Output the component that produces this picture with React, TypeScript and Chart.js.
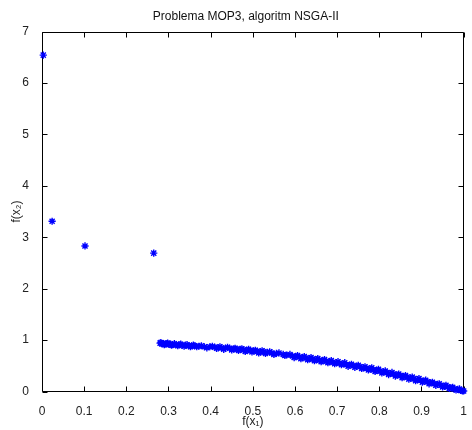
import { useEffect, useRef } from 'react';
import { Chart, registerables } from 'chart.js';

Chart.register(...registerables);

const chartTitle = 'Problema MOP3, algoritm NSGA-II';
const xAxisTitle = 'f(x₁)';
const yAxisTitle = 'f(x₂)';
const xTickLabels = ['0', '0.1', '0.2', '0.3', '0.4', '0.5', '0.6', '0.7', '0.8', '0.9', '1'];
const yTickLabels = ['0', '1', '2', '3', '4', '5', '6', '7'];

const f1Values = [
  0.003, 0.024, 0.102, 0.265,
  0.280, 0.284, 0.288, 0.292, 0.296, 0.300, 0.305, 0.310, 0.318, 0.325,
  0.332, 0.340, 0.348, 0.355, 0.362, 0.372, 0.385, 0.398, 0.410, 0.418,
  0.426, 0.435, 0.445, 0.455, 0.462, 0.470, 0.478, 0.486, 0.494, 0.502,
  0.510, 0.518, 0.526, 0.534, 0.545, 0.556, 0.572, 0.580, 0.594, 0.602,
  0.610, 0.618, 0.626, 0.634, 0.642, 0.650, 0.658, 0.666, 0.674, 0.682,
  0.690, 0.698, 0.706, 0.714, 0.722, 0.730, 0.738, 0.746, 0.754, 0.762,
  0.770, 0.778, 0.786, 0.794, 0.802, 0.810, 0.818, 0.826, 0.834, 0.842,
  0.850, 0.858, 0.866, 0.874, 0.882, 0.890, 0.898, 0.906, 0.914, 0.922,
  0.930, 0.938, 0.946, 0.954, 0.962, 0.970, 0.978, 0.986, 0.993, 1.000,
  0.282, 0.290, 0.298, 0.307, 0.314, 0.322, 0.329, 0.337, 0.344, 0.352,
  0.359, 0.367, 0.378, 0.391, 0.404, 0.414, 0.422, 0.431, 0.440, 0.450,
  0.458, 0.466, 0.474, 0.482, 0.490, 0.498, 0.506, 0.514, 0.522, 0.530,
  0.540, 0.550, 0.562, 0.576, 0.588, 0.598, 0.606, 0.614, 0.622, 0.630,
  0.638, 0.646, 0.654, 0.662, 0.670, 0.678, 0.686, 0.694, 0.702, 0.710,
  0.718, 0.726, 0.734, 0.742, 0.750, 0.758, 0.766, 0.774, 0.782, 0.790,
  0.798, 0.806, 0.814, 0.822, 0.830, 0.838, 0.846, 0.854, 0.862, 0.870,
  0.878, 0.886, 0.894, 0.902, 0.910, 0.918, 0.926, 0.934, 0.942, 0.950,
  0.958, 0.966, 0.974, 0.982, 0.990, 0.997,
];

const f2Values = [
  6.54, 3.31, 2.83, 2.69,
  0.94, 0.93, 0.93, 0.92, 0.93, 0.92, 0.92, 0.91, 0.91, 0.91,
  0.90, 0.90, 0.89, 0.89, 0.89, 0.88, 0.87, 0.87, 0.86, 0.85,
  0.85, 0.84, 0.84, 0.83, 0.82, 0.82, 0.81, 0.80, 0.80, 0.79,
  0.78, 0.77, 0.77, 0.76, 0.75, 0.74, 0.72, 0.71, 0.69, 0.68,
  0.67, 0.66, 0.65, 0.64, 0.63, 0.62, 0.61, 0.60, 0.59, 0.58,
  0.57, 0.56, 0.55, 0.54, 0.52, 0.51, 0.50, 0.49, 0.48, 0.46,
  0.45, 0.44, 0.42, 0.41, 0.40, 0.38, 0.37, 0.35, 0.34, 0.32,
  0.31, 0.29, 0.28, 0.26, 0.25, 0.23, 0.22, 0.20, 0.19, 0.17,
  0.15, 0.14, 0.12, 0.10, 0.09, 0.07, 0.05, 0.04, 0.02, 0.01,
  0.95, 0.91, 0.94, 0.90, 0.93, 0.89, 0.92, 0.88, 0.91, 0.87,
  0.90, 0.87, 0.89, 0.85, 0.88, 0.84, 0.87, 0.82, 0.86, 0.81,
  0.84, 0.80, 0.83, 0.78, 0.82, 0.77, 0.80, 0.75, 0.79, 0.74,
  0.77, 0.72, 0.75, 0.70, 0.72, 0.66, 0.70, 0.64, 0.68, 0.62,
  0.66, 0.60, 0.64, 0.58, 0.62, 0.56, 0.60, 0.54, 0.58, 0.52,
  0.56, 0.49, 0.53, 0.47, 0.51, 0.45, 0.48, 0.42, 0.46, 0.39,
  0.43, 0.36, 0.40, 0.33, 0.37, 0.30, 0.34, 0.27, 0.31, 0.24,
  0.28, 0.21, 0.25, 0.18, 0.22, 0.15, 0.18, 0.12, 0.15, 0.09,
  0.12, 0.06, 0.08, 0.03, 0.05, 0.01,
];

const FONT = '"Liberation Sans", Arial, Helvetica, sans-serif';

export default function App() {
  const ref = useRef<HTMLCanvasElement>(null);

  useEffect(() => {
    const canvas = ref.current;
    if (!canvas) return;

    const framePlugin = {
      id: 'matlabFrame',
      beforeDatasetsDraw(chart: any) {
        const { ctx, chartArea, scales } = chart;
        const L = Math.round(chartArea.left) + 0.5;
        const R = Math.round(chartArea.right) - 0.5;
        const T = Math.round(chartArea.top) + 0.5;
        const B = Math.round(chartArea.bottom) - 0.5;
        const tl = 5;
        ctx.save();
        ctx.strokeStyle = '#000';
        ctx.lineWidth = 1;
        ctx.beginPath();
        ctx.rect(L, T, R - L, B - T);
        scales.x.ticks.forEach((t: any) => {
          const px = Math.round(scales.x.getPixelForValue(t.value)) + 0.5;
          ctx.moveTo(px, B);
          ctx.lineTo(px, B - tl);
          ctx.moveTo(px, T);
          ctx.lineTo(px, T + tl);
        });
        scales.y.ticks.forEach((t: any) => {
          const py = Math.round(scales.y.getPixelForValue(t.value)) + 0.5;
          ctx.moveTo(L, py);
          ctx.lineTo(L + tl, py);
          ctx.moveTo(R, py);
          ctx.lineTo(R - tl, py);
        });
        ctx.stroke();
        ctx.fillStyle = '#111';
        ctx.font = `12px ${FONT}`;
        ctx.textAlign = 'center';
        ctx.textBaseline = 'middle';
        ctx.fillText(chartTitle, (chartArea.left + chartArea.right) / 2 - 7, 17);
        ctx.restore();
      },
    };

    const chart = new Chart(canvas, {
      type: 'scatter',
      data: {
        datasets: [
          {
            data: f1Values.map((x, i) => ({ x, y: f2Values[i] })),
            pointStyle: 'star',
            pointRadius: 3.6,
            pointHoverRadius: 3.6,
            borderColor: '#0000ff',
            backgroundColor: '#0000ff',
            borderWidth: 1.4,
            showLine: false,
            clip: false,
          } as any,
        ],
      },
      options: {
        responsive: false,
        animation: false,
        devicePixelRatio: 1,
        layout: { padding: { top: 31.5, right: 4, left: 0, bottom: 0 } },
        plugins: {
          legend: { display: false },
          tooltip: { enabled: false },
          title: { display: false },
        },
        scales: {
          x: {
            type: 'linear',
            min: 0,
            max: 1,
            afterFit: (s: any) => {
              s.height = 38.5;
            },
            grid: { display: false },
            border: { display: false },
            ticks: {
              stepSize: 0.1,
              padding: 5,
              color: '#222',
              font: { family: FONT, size: 12 },
              maxRotation: 0,
              callback: (_v: any, i: number) => xTickLabels[i],
            },
            title: {
              display: true,
              text: xAxisTitle,
              color: '#222',
              font: { family: FONT, size: 12 },
              padding: { top: 0, bottom: 1 },
            },
          },
          y: {
            type: 'linear',
            min: 0,
            max: 7,
            afterFit: (s: any) => {
              s.width = 42;
            },
            grid: { display: false },
            border: { display: false },
            ticks: {
              stepSize: 1,
              padding: 5,
              color: '#222',
              font: { family: FONT, size: 12 },
              callback: (_v: any, i: number) => yTickLabels[i],
            },
            title: {
              display: true,
              text: yAxisTitle,
              color: '#222',
              font: { family: FONT, size: 12 },
              padding: { top: 9.5, bottom: 0 },
            },
          },
        },
      },
      plugins: [framePlugin],
    });

    return () => chart.destroy();
  }, []);

  return (
    <div style={{ position: 'absolute', left: 0, top: 0, width: 472, height: 430, background: '#fff' }}>
      <canvas ref={ref} width={472} height={430} />
    </div>
  );
}
